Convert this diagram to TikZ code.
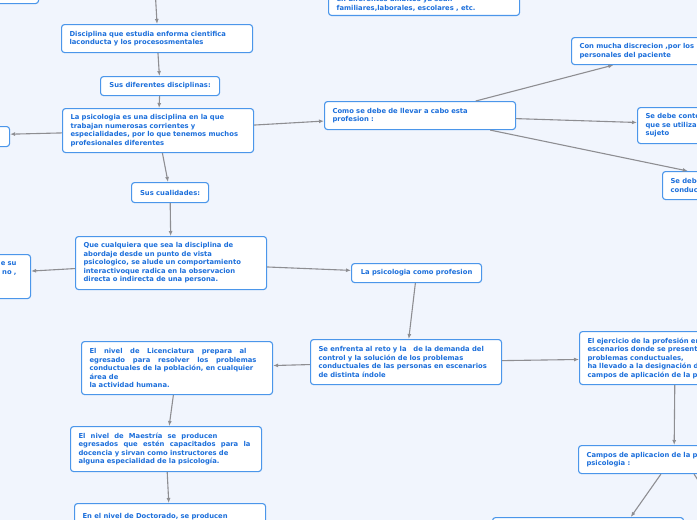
\documentclass[tikz,border=0pt]{standalone}
\usepackage{fontspec}
\setmainfont{DejaVu Sans}
\usetikzlibrary{arrows.meta, positioning, calc}
\definecolor{mapback}{HTML}{F1F5FD}
\definecolor{mapborder}{HTML}{4B96EA}
\definecolor{maptext}{HTML}{1C6FDB}
\definecolor{linkgray}{HTML}{8E8E92}
\newcommand{\spreadline}[2]{\makebox[#1][s]{\spaceskip=0.35em plus 1fil\relax #2}}

\begin{document}
\begin{tikzpicture}[>={Latex[length=5pt,width=4pt]}, x=1pt, y=-1pt,
    mapnode/.style={draw=mapborder, fill=white, rounded corners=3pt,
      line width=1.1pt, text=maptext,
      font=\fontsize{6.8}{8.5}\selectfont\bfseries,
      inner xsep=8pt, inner ysep=4pt, anchor=north west, align=left},
    widenode/.style={text width=175pt, minimum height=#1},
    tagnode/.style={align=center, minimum width=#1, minimum height=19pt},
    link/.style={->, draw=linkgray, line width=1.1pt}]
  \fill[mapback] (0,0) rectangle (697,520);
  \useasboundingbox (0,0) rectangle (697,520);

  % left column
  \node[mapnode, minimum width=188pt, minimum height=23pt] (raiz) at (-150,-20) {};
  \coordinate (arriba) at (155,-12);
  \node[mapnode, widenode=28pt] (disciplina) at (61,24)
    {Disciplina que estudia enforma cientifica\\laconducta y los procesosmentales};
  \node[mapnode, tagnode=119pt] (diferentes) at (100,76) {Sus diferentes disciplinas:};
  \node[mapnode, widenode=44pt] (psicologia) at (62,108)
    {La psicologia es una disciplina en la que\\trabajan numerosas corrientes y\\especialidades, por lo que tenemos muchos\\profesionales diferentes};
  \node[mapnode, widenode=20pt] (izquierda) at (-182,126) {};
  \node[mapnode, tagnode=77pt, minimum height=20pt] (cualidades) at (131,182) {Sus cualidades:};
  \node[mapnode, widenode=53pt] (cualquiera) at (75,236)
    {Que cualquiera que sea la disciplina de\\abordaje desde un punto de vista\\psicologico, se alude un comportamiento\\interactivoque radica en la observacion\\directa o indirecta de una persona.};
  \node[mapnode, text width=163pt, inner xsep=14pt, align=right, minimum height=44pt] (entorno) at (-161,254)
    {e su\\no ,\\\mbox{}\\\mbox{}};

  % top right
  \node[mapnode, text width=175pt, anchor=south west] (ambitos) at (328,16)
    {\mbox{}\\en diferentes ámbitos ya sean\\familiares,laborales, escolares , etc.};
  \node[mapnode, widenode=28pt] (como) at (324,101)
    {Como se debe de llevar a cabo esta\\profesion :};
  \node[mapnode, widenode=27pt] (discrecion) at (571,37)
    {Con mucha discrecion ,por los\\personales del paciente};
  \node[mapnode, widenode=36pt] (contemplar) at (637,107)
    {Se debe conte\\que se utiliza\\sujeto};
  \node[mapnode, widenode=28pt] (conducta) at (662,171)
    {Se debe\\conducta};

  % lower half
  \node[mapnode, tagnode=130pt] (profesion) at (351,263) {La psicologia como profesion};
  \node[mapnode, widenode=45pt] (reto) at (310,339)
    {Se enfrenta al reto y la~~ de la demanda del\\control y la solución de los problemas\\conductuales de las personas en escenarios\\de distinta índole};
  \node[mapnode, text width=175pt, minimum height=53pt] (licenciatura) at (81,341)
    {\spreadline{157pt}{El nivel de Licenciatura prepara al}\\\spreadline{167pt}{egresado para resolver los problemas}\\conductuales de la población, en cualquier\\área de\\la actividad humana.};
  \node[mapnode, text width=175pt, minimum height=45pt] (maestria) at (70,426)
    {\spreadline{139pt}{El nivel de Maestría se producen}\\\spreadline{172pt}{egresados que estén capacitados para la}\\docencia y sirvan como instructores de\\alguna especialidad de la psicología.};
  \node[mapnode, widenode=50pt] (doctorado) at (74,503)
    {En el nivel de Doctorado, se producen\\\mbox{}\\\mbox{}\\\mbox{}};
  \node[mapnode, widenode=53pt] (ejercicio) at (579,331)
    {El ejercicio de la profesión en\\escenarios donde se presentan\\problemas conductuales,\\ha llevado a la designación de\\campos de aplicación de la psicología};
  \node[mapnode, widenode=28pt] (campos) at (578,445)
    {Campos de aplicacion de la p\\psicologia :};
  \node[mapnode, widenode=30pt] (aplicacion) at (492,517) {};
  \coordinate (derecha) at (712,502);

  % connectors
  \draw[link] (arriba) -- (disciplina.north);
  \draw[link] (disciplina) -- (diferentes);
  \draw[link] (diferentes) -- (psicologia);
  \draw[link] (psicologia) -- (izquierda);
  \draw[link] (psicologia) -- (como);
  \draw[link] (como) -- (discrecion);
  \draw[link] (como) -- (contemplar);
  \draw[link] (como) -- (conducta);
  \draw[link] (psicologia) -- (cualidades);
  \draw[link] (cualidades) -- (cualquiera);
  \draw[link] (cualquiera) -- (entorno);
  \draw[link] (cualquiera) -- (profesion);
  \draw[link] (profesion) -- (reto);
  \draw[link] (reto) -- (licenciatura);
  \draw[link] (reto) -- (ejercicio);
  \draw[link] (licenciatura) -- (maestria);
  \draw[link] (maestria) -- (doctorado);
  \draw[link] (ejercicio) -- (campos);
  \draw[link] (campos.-132) -- (aplicacion.20);
  \draw[link] (campos.-36) -- (derecha);
\end{tikzpicture}
\end{document}
